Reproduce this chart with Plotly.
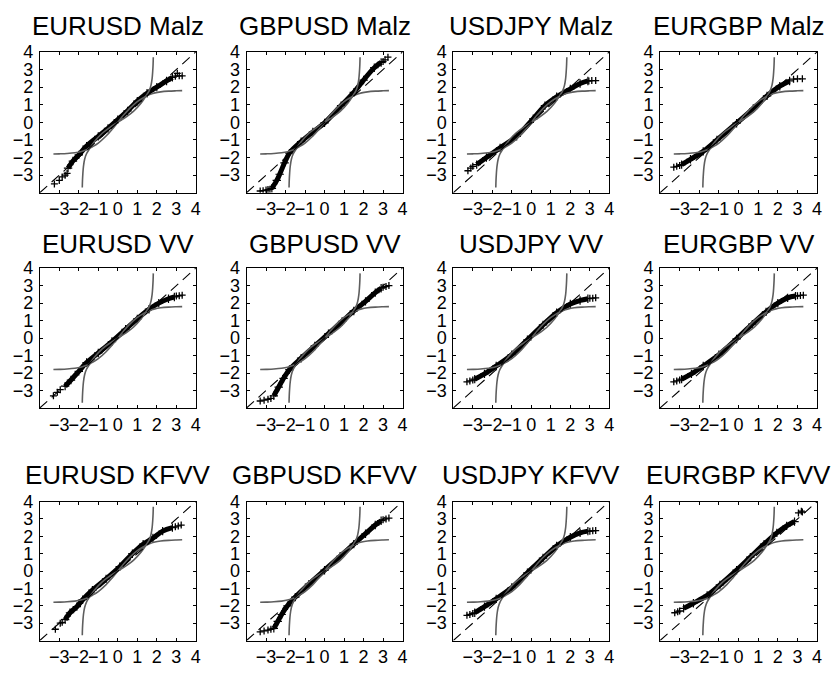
import plotly.graph_objects as go

# ---- panel layout -------------------------------------------------------
pairs = ["EURUSD", "GBPUSD", "USDJPY", "EURGBP"]
models = ["Malz", "VV", "KFVV"]
tick_vals = [-3, -2, -1, 0, 1, 2, 3, 4]

# ---- reference curves (bounded distribution vs normal quantiles) ----------
flat_x = [-3.3, -3.0, -2.6, -2.2, -1.9, -1.6, -1.3, -1.0, -0.6, -0.3, 0.0,
          0.3, 0.6, 1.0, 1.3, 1.6, 1.9, 2.2, 2.6, 3.0, 3.3]
flat_y = [-1.80, -1.79, -1.77, -1.73, -1.67, -1.56, -1.39, -1.18, -0.78, -0.41, 0.0,
          0.41, 0.78, 1.18, 1.39, 1.56, 1.67, 1.73, 1.77, 1.79, 1.80]
steep_x = [-1.82, -1.81, -1.79, -1.76, -1.70, -1.61, -1.45, -1.20, -0.80, -0.42, 0.0,
           0.42, 0.80, 1.20, 1.45, 1.61, 1.70, 1.76, 1.79, 1.81, 1.82]
steep_y = [-3.7, -3.3, -2.9, -2.5, -2.1, -1.8, -1.5, -1.1, -0.62, -0.3, 0.0,
           0.3, 0.62, 1.1, 1.5, 1.8, 2.1, 2.5, 2.9, 3.3, 3.7]

# ---- sample quantiles: dense body and sparse tails per panel --------------
body_x = {
    ("EURUSD", "Malz"): [-2.55, -2.3, -2.0, -1.6, -1.0, -0.5, 0.0, 0.5, 1.0, 1.5, 2.0, 2.5, 2.8],
    ("GBPUSD", "Malz"): [-2.7, -2.45, -2.3, -2.05, -1.8, -1.2, -0.6, 0.0, 0.85, 1.5, 2.0, 2.55, 2.9],
    ("USDJPY", "Malz"): [-2.8, -2.3, -1.6, -0.75, 0.1, 0.7, 1.3, 2.0, 2.5, 2.9],
    ("EURGBP", "Malz"): [-2.9, -2.45, -1.8, -1.1, -0.1, 0.75, 1.45, 2.1, 2.6],
    ("EURUSD", "VV"): [-2.7, -2.4, -2.0, -1.6, -1.0, -0.3, 0.4, 1.0, 1.6, 2.1, 2.6, 2.9],
    ("GBPUSD", "VV"): [-2.6, -2.35, -2.1, -1.8, -1.2, -0.5, 0.2, 0.9, 1.5, 2.1, 2.6, 2.9],
    ("USDJPY", "VV"): [-2.9, -2.4, -1.8, -1.0, -0.2, 0.6, 1.3, 2.0, 2.5, 2.9],
    ("EURGBP", "VV"): [-2.9, -2.4, -1.8, -1.0, -0.1, 0.7, 1.4, 2.0, 2.5, 2.9],
    ("EURUSD", "KFVV"): [-2.7, -2.45, -2.1, -1.8, -1.3, -0.6, 0.1, 0.75, 1.3, 1.8, 2.3, 2.8],
    ("GBPUSD", "KFVV"): [-2.6, -2.4, -2.2, -1.9, -1.5, -0.8, 0.0, 0.8, 1.5, 2.1, 2.6, 2.9],
    ("USDJPY", "KFVV"): [-2.9, -2.4, -1.8, -1.0, -0.2, 0.6, 1.3, 2.0, 2.5, 2.9],
    ("EURGBP", "KFVV"): [-2.8, -2.3, -1.6, -0.95, -0.1, 0.6, 1.3, 1.95, 2.45, 2.85],
}
body_y = {
    ("EURUSD", "Malz"): [-2.6, -2.2, -1.85, -1.35, -0.8, -0.35, 0.15, 0.65, 1.2, 1.65, 2.0, 2.35, 2.55],
    ("GBPUSD", "Malz"): [-3.75, -3.3, -2.95, -2.3, -1.75, -1.1, -0.55, -0.03, 0.95, 1.7, 2.4, 3.1, 3.4],
    ("USDJPY", "Malz"): [-2.4, -2.0, -1.45, -0.8, 0.2, 0.95, 1.45, 1.9, 2.2, 2.35],
    ("EURGBP", "Malz"): [-2.4, -2.1, -1.65, -1.0, -0.05, 0.78, 1.5, 2.05, 2.35],
    ("EURUSD", "VV"): [-2.75, -2.4, -1.9, -1.4, -0.85, -0.2, 0.5, 1.1, 1.65, 2.0, 2.25, 2.35],
    ("GBPUSD", "VV"): [-3.3, -2.8, -2.3, -1.8, -1.15, -0.45, 0.25, 0.95, 1.55, 2.1, 2.6, 2.85],
    ("USDJPY", "VV"): [-2.35, -2.05, -1.6, -0.95, -0.1, 0.75, 1.45, 1.95, 2.15, 2.25],
    ("EURGBP", "VV"): [-2.35, -2.05, -1.6, -0.95, -0.05, 0.8, 1.5, 2.0, 2.3, 2.4],
    ("EURUSD", "KFVV"): [-2.8, -2.4, -2.05, -1.65, -1.1, -0.45, 0.25, 1.0, 1.55, 1.9, 2.3, 2.5],
    ("GBPUSD", "KFVV"): [-3.3, -2.9, -2.5, -2.0, -1.5, -0.75, 0.05, 0.85, 1.55, 2.15, 2.65, 2.9],
    ("USDJPY", "KFVV"): [-2.4, -2.05, -1.6, -0.95, -0.1, 0.75, 1.45, 1.95, 2.2, 2.3],
    ("EURGBP", "KFVV"): [-2.15, -1.85, -1.4, -0.8, 0.05, 0.8, 1.55, 2.2, 2.6, 2.85],
}
tail_x = {
    ("EURUSD", "Malz"): [-3.25, -3.0, -2.85, -2.7, -2.6, 2.95, 3.05, 3.15, 3.3],
    ("GBPUSD", "Malz"): [-3.3, -3.15, -3.0, -2.9, -2.8, 3.0, 3.1, 3.25],
    ("USDJPY", "Malz"): [-3.25, -3.1, -3.0, 2.95, 3.1, 3.3],
    ("EURGBP", "Malz"): [-3.3, -3.15, -3.0, 2.8, 3.0, 3.25],
    ("EURUSD", "VV"): [-3.3, -3.1, -2.95, 3.0, 3.15, 3.3],
    ("GBPUSD", "VV"): [-3.3, -3.1, -2.9, -2.75, 3.0, 3.15, 3.3],
    ("USDJPY", "VV"): [-3.3, -3.15, -3.0, 3.0, 3.15, 3.3],
    ("EURGBP", "VV"): [-3.3, -3.15, -3.0, 3.0, 3.15, 3.3],
    ("EURUSD", "KFVV"): [-3.2, -2.95, -2.85, 2.95, 3.1, 3.25],
    ("GBPUSD", "KFVV"): [-3.3, -3.1, -2.9, -2.75, 3.0, 3.15, 3.3],
    ("USDJPY", "KFVV"): [-3.3, -3.15, -3.0, 3.0, 3.15, 3.3],
    ("EURGBP", "KFVV"): [-3.25, -3.1, -3.0, 3.05, 3.2, 3.25],
}
tail_y = {
    ("EURUSD", "Malz"): [-3.5, -3.3, -3.1, -3.0, -2.9, 2.62, 2.78, 2.64, 2.64],
    ("GBPUSD", "Malz"): [-3.9, -3.88, -3.85, -3.82, -3.8, 3.45, 3.55, 3.7],
    ("USDJPY", "Malz"): [-2.75, -2.6, -2.5, 2.35, 2.37, 2.37],
    ("EURGBP", "Malz"): [-2.55, -2.5, -2.45, 2.45, 2.47, 2.47],
    ("EURUSD", "VV"): [-3.3, -3.1, -2.95, 2.4, 2.42, 2.45],
    ("GBPUSD", "VV"): [-3.6, -3.55, -3.5, -3.45, 2.9, 2.95, 3.0],
    ("USDJPY", "VV"): [-2.5, -2.45, -2.4, 2.27, 2.28, 2.3],
    ("EURGBP", "VV"): [-2.5, -2.45, -2.4, 2.42, 2.44, 2.45],
    ("EURUSD", "KFVV"): [-3.35, -3.0, -2.95, 2.55, 2.6, 2.65],
    ("GBPUSD", "KFVV"): [-3.5, -3.45, -3.4, -3.35, 2.95, 3.0, 3.05],
    ("USDJPY", "KFVV"): [-2.55, -2.5, -2.45, 2.3, 2.32, 2.33],
    ("EURGBP", "KFVV"): [-2.4, -2.35, -2.3, 3.35, 3.45, 3.4],
}

# ---- figure geometry (pixels) --------------------------------------------
W, H = 838, 675
col_px = [(40, 197), (248, 405), (456, 613), (664, 822)]
row_px = [(42.5, 185.5), (262, 404), (499, 640)]
title_px = [16, 238, 472]

FONT = "Liberation Sans, Arial, Helvetica, sans-serif"
GRAY = "#5e5e5e"

fig = go.Figure()
annotations = []

for r, model in enumerate(models):
    for c, pair in enumerate(pairs):
        k = r * 4 + c + 1
        xa = "x" if k == 1 else f"x{k}"
        ya = "y" if k == 1 else f"y{k}"
        key = (pair, model)

        # dense body of the Q-Q plot
        fig.add_trace(go.Scatter(
            x=body_x[key], y=body_y[key], xaxis=xa, yaxis=ya,
            mode="lines+markers", line=dict(color="black", width=5, shape="spline"),
            marker=dict(symbol="cross-thin", size=6, line=dict(color="black", width=1.2)),
            showlegend=False, hoverinfo="skip"))
        # sparse tail observations
        fig.add_trace(go.Scatter(
            x=tail_x[key], y=tail_y[key], xaxis=xa, yaxis=ya, mode="markers",
            marker=dict(symbol="cross-thin", size=5, line=dict(color="black", width=1.3)),
            showlegend=False, hoverinfo="skip"))
        # reference curves
        fig.add_trace(go.Scatter(
            x=flat_x, y=flat_y, xaxis=xa, yaxis=ya, mode="lines",
            line=dict(color=GRAY, width=1.6, shape="spline"),
            showlegend=False, hoverinfo="skip"))
        fig.add_trace(go.Scatter(
            x=steep_x, y=steep_y, xaxis=xa, yaxis=ya, mode="lines",
            line=dict(color=GRAY, width=1.6, shape="spline"),
            showlegend=False, hoverinfo="skip"))
        # 45-degree line
        fig.add_trace(go.Scatter(
            x=[-4, 4], y=[-4, 4], xaxis=xa, yaxis=ya, mode="lines",
            line=dict(color="black", width=1.1, dash="10px,6px"),
            showlegend=False, hoverinfo="skip"))

        x0, x1 = col_px[c]
        y0, y1 = row_px[r]
        axis_common = dict(
            range=[-4, 4], tickvals=tick_vals, ticks="inside", ticklen=3,
            tickcolor="black", showline=True, linecolor="black", linewidth=1,
            mirror="allticks", showgrid=False, zeroline=False, tickangle=0,
            tickfont=dict(family=FONT, size=18, color="black"))
        fig.layout[f"xaxis{'' if k == 1 else k}"] = dict(
            axis_common, domain=[x0 / W, x1 / W], anchor=ya, ticklabelstandoff=0)
        fig.layout[f"yaxis{'' if k == 1 else k}"] = dict(
            axis_common, domain=[1 - y1 / H, 1 - y0 / H], anchor=xa, ticklabelstandoff=2)

        annotations.append(dict(
            text=f"{pair} {model}", x=(x0 + x1) / 2 / W, y=1 - title_px[r] / H,
            xref="paper", yref="paper", xanchor="center", yanchor="middle",
            showarrow=False, font=dict(family=FONT, size=26, color="black")))

fig.update_layout(
    width=W, height=H, margin=dict(l=0, r=0, t=0, b=0),
    paper_bgcolor="white", plot_bgcolor="white", annotations=annotations)

fig.write_html("out.html")
